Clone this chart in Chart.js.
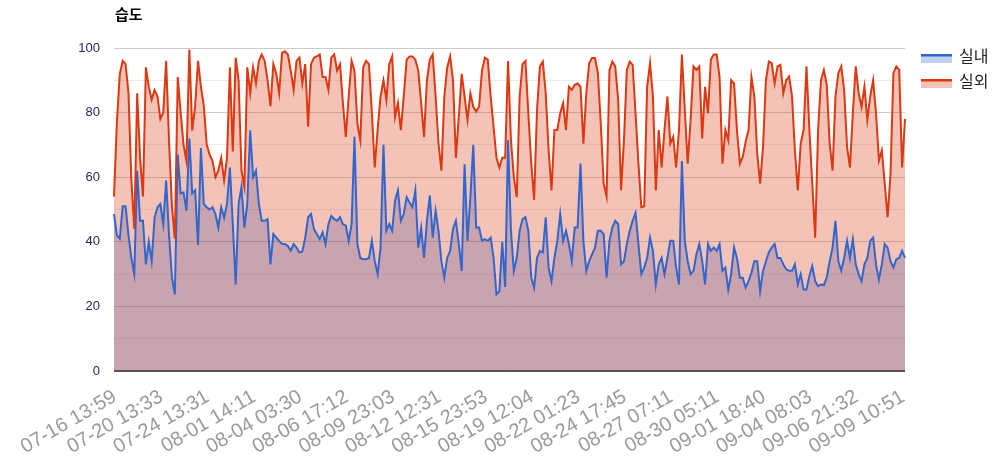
<!DOCTYPE html>
<html><head><meta charset="utf-8">
<script src="https://cdn.jsdelivr.net/npm/chart.js@4.4.0/dist/chart.umd.min.js"></script>
<style>html,body{margin:0;padding:0;background:#fff;}#wrap{width:1003px;height:474px;}</style>
</head><body><div id="wrap"><canvas id="c" width="1003" height="474"></canvas></div>
<script>
const tickLabels = ['07-16 13:59','07-20 13:33','07-24 13:31','08-01 14:11','08-04 03:30','08-06 17:12','08-09 23:03','08-12 12:31','08-15 23:53','08-19 12:04','08-22 01:23','08-24 17:45','08-27 07:11','08-30 05:11','09-01 18:40','09-04 08:03','09-06 21:32','09-09 10:51'];
const tickEvery = 16;
const seriesNames = ['실내','실외'];
const indoor = [
48.6,42,41,51,51,42,35,30,62,46.5,
46.5,33,40,34,47.5,50.7,51.7,45.5,59,42,
29,23.7,67,55,55.3,49.6,72,55,56,39,
69,51.7,50.7,50,50.7,48.6,44.4,50.7,47.5,51.7,
63,45.5,26.8,51.7,57,44.4,51.7,74.5,60,62,
51.7,46.5,46.5,47,33,42.4,41.3,40.3,39.3,39.3,
38.7,37.2,39.3,38.2,36.7,
37,41.3,47.6,48.6,44,42.4,40.8,42.9,39.3,45.5,
48,47,46.5,47.6,45.5,45,40.3,45.5,72.5,39.3,
35,34.6,34.6,35,40.3,34,30,38.2,70,43.4,
45.5,43.4,52.7,55.9,46.5,48.6,53.8,52.2,50.7,55.9,
38.2,44.4,35,46.5,54.3,41.3,49.6,43.4,34,28.9,
35,37.2,44,46.5,39.3,31,64,40.3,53.8,70,
44.4,44.4,40.3,40.8,40.3,41.3,35,23.7,24.7,
40,26,71.4,43.4,31,35,43.4,47,47.6,43.4,
28.9,25.8,35,37.2,36.7,47.6,32,27.8,35,40.3,
48.6,40.3,43.4,39.3,34,44.4,44.4,64.2,40.3,31,
34,36.1,38.2,43.4,43.4,42.4,28.9,40.3,44.4,46.5,
45.5,33,34,39.3,43.4,46.5,49,39.3,30,32,
35,41.3,37.2,26.8,33,35,30,35,40.3,40.3,
32,26.8,65,40.3,34,30,31,36.1,39.3,
34,26.8,39.3,37.2,38.2,37.2,39.3,31,32,25.2,
30,38.2,35,28.9,28.9,25.8,27.8,30.4,34,34,
24.7,31,34,36.7,38.2,39.3,35,35,33,31.5,
31,31,33,26.8,30,25.2,25.2,29.4,32.5,27.8,
26.3,26.8,26.6,28.9,34,38.2,46.5,34,31,35,
40.3,35,40.8,33,30,27.8,33,35,40.3,41.3,
33,28.3,33,39.3,38.2,34,32,34.6,35,37.2,35
];
const outdoor = [
54,77,92,96,95,86,59,44,86,66,
54,94,88,84,87,85,78,80,96,71,
51,41,91,80,70,65,99.5,74.5,82,96,
88,82,70,67,65,60,62,66,59,66,
94,68,97,90,62,57,94,86,94,89,
96,98,96,90,82,95,92,86,98.5,99,
98,93,87,96,97,
89,95,75.6,95,97,97.4,98,91,91,87,
97,98,93,95,83,72.5,85,96,93,76.6,
71.4,94,96,95,80,63,75,85,90,84,
95,97.4,78.7,83,74.6,85,96.4,97.4,97.4,96.4,
93,83,72.5,90,96.4,98,85,70.4,62,85,
94,97.4,90,66,78.7,92,85,77.7,86,81.8,
80.3,81.8,93,97,96.4,85,75.6,66,63,
66,66,96,71.4,60,53.8,85,95,96,79.8,
64.2,53,80.8,94.3,95.8,86,68.3,55.9,74.6,74.6,
79.8,82.9,74.6,88,87,88.6,89,88,70.4,86,
95.3,96.9,96.9,92.2,76.6,58,54,93.2,95.8,94.3,
83.9,56,71.4,93.2,95.8,94.8,79.8,64.2,50.7,51,
88,95.3,85,55.9,74.6,63,74.6,85,70.4,72.5,
63,74.6,98,80.8,64.2,77.7,94.3,93.2,94.3,
72,88,79.8,96.4,98,98,91,64.2,74.6,71.4,
90,89,74.6,64.2,66.3,71,74.6,91,85,67.3,
58,69.4,90,95.8,95.3,89,94.3,94.8,86,90,
91.2,85,68.3,55.9,70.4,74.6,94.3,74.6,58,41.3,
74.6,90,93.2,88.6,70.4,62,85,92.2,94.3,87,
69.4,63,79.8,94.3,86,81.8,88,77.7,85,90,
79.8,65.2,68.3,58,47.6,61,92.2,94.3,93.2,63,78
];
const categories = indoor.map((_, i) => (i % tickEvery === 0 && tickLabels[i / tickEvery]) ? tickLabels[i / tickEvery] : '');

const extras = {
  id: 'extras',
  afterDatasetsDraw(chart) {
    const ctx = chart.ctx, a = chart.chartArea, y0 = chart.scales.y.getPixelForValue(0);
    ctx.save();
    ctx.strokeStyle = '#333';
    ctx.lineWidth = 1.5;
    ctx.beginPath(); ctx.moveTo(a.left, y0); ctx.lineTo(a.right, y0); ctx.stroke();
    // title
    ctx.fillStyle = '#000';
    ctx.font = 'bold 15px "Noto Sans CJK KR", sans-serif';
    ctx.textAlign = 'left'; ctx.textBaseline = 'alphabetic';
    ctx.fillText('습도', a.left + 1, 20);
    // legend
    chart.data.datasets.forEach((ds, j) => {
      const top = 54 + 25 * j;
      ctx.fillStyle = ds.backgroundColor;
      ctx.fillRect(921, top, 31, 9);
      ctx.fillStyle = ds.borderColor;
      ctx.fillRect(921, top, 31, 2.5);
      ctx.fillStyle = '#222';
      ctx.font = '16px "Noto Sans CJK KR", sans-serif';
      ctx.textBaseline = 'middle';
      ctx.fillText(ds.label, 959, top + 1.5);
    });
    ctx.restore();
  }
};

new Chart(document.getElementById('c'), {
  type: 'line',
  data: {
    labels: categories,
    datasets: [
      {label: seriesNames[0], data: indoor, borderColor: '#3366cc', backgroundColor: 'rgba(51,102,204,0.3)', fill: 'origin', borderWidth: 2, pointRadius: 0, tension: 0, order: 1},
      {label: seriesNames[1], data: outdoor, borderColor: '#dc3912', backgroundColor: 'rgba(220,57,18,0.3)', fill: 'origin', borderWidth: 2, pointRadius: 0, tension: 0, order: 0}
    ]
  },
  options: {
    responsive: false, animation: false, events: [],
    layout: {padding: {left: 0, right: 98, top: 48, bottom: 0}},
    plugins: {legend: {display: false}, tooltip: {enabled: false}, filler: {drawTime: 'beforeDatasetsDraw'}},
    scales: {
      x: {
        type: 'category', offset: false,
        grid: {display: false, drawTicks: false}, border: {display: false},
        ticks: {autoSkip: false, maxRotation: 30, minRotation: 30, color: '#9a9a9a', labelOffset: 1, padding: 14,
                font: {family: '"Liberation Sans", Arial, sans-serif', size: 20}},
        afterFit(s) { s.height = 103; }
      },
      y: {
        min: 0, max: 100,
        ticks: {stepSize: 10, padding: 14, color: '#26266a', font: {family: '"Liberation Sans", Arial, sans-serif', size: 13},
                callback: v => (v % 20 === 0 ? String(v) : '')},
        grid: {drawTicks: false, color: c => (c.tick.value % 20 === 0 ? '#cccccc' : '#ebebeb'), lineWidth: 1},
        border: {display: false},
        afterFit(s) { s.width = 114; }
      }
    }
  },
  plugins: [extras]
});
</script></body></html>
